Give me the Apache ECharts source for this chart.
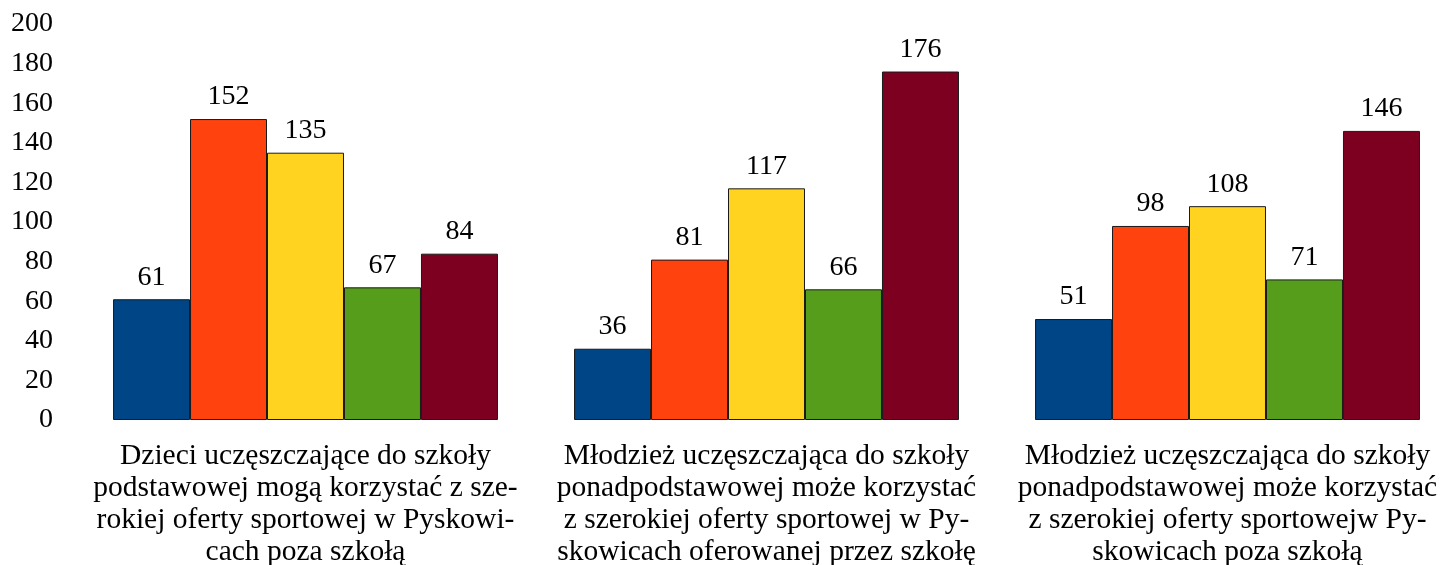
<!DOCTYPE html>
<html>
<head>
<meta charset="utf-8">
<script src="https://cdn.jsdelivr.net/npm/echarts@6/dist/echarts.min.js"></script>
<style>
  html, body { margin: 0; padding: 0; background: #fff; overflow: hidden; }
  #chart { width: 1443px; height: 565px; }
</style>
</head>
<body>
<div id="chart"></div>
<script>
// kategorie (podpisy osi X, z łamaniem jak w oryginale)
var categories = [
	'Dzieci uczęszczające do szkoły\npodstawowej mogą korzystać z sze-\nrokiej oferty sportowej w Pyskowi-\ncach poza szkołą',
	'Młodzież uczęszczająca do szkoły\nponadpodstawowej może korzystać\nz szerokiej oferty sportowej w Py-\nskowicach oferowanej przez szkołę',
	'Młodzież uczęszczająca do szkoły\nponadpodstawowej może korzystać\nz szerokiej oferty sportowejw Py-\nskowicach poza szkołą'
];
var seriesNames = ['Seria 1', 'Seria 2', 'Seria 3', 'Seria 4', 'Seria 5'];
var colors = ['#004586', '#ff420e', '#ffd320', '#579d1c', '#7e0021'];
var s1 = [61, 36, 51];
var s2 = [152, 81, 98];
var s3 = [135, 117, 108];
var s4 = [67, 66, 71];
var s5 = [84, 176, 146];
var yTicks = { min: 0, max: 200, interval: 20 };

var font = 'Liberation Serif';
var chart = echarts.init(document.getElementById('chart'));

var series = [s1, s2, s3, s4, s5].map(function(v, i) {
	return {
		name: seriesNames[i],
		type: 'bar',
		data: v,
		barGap: '0%',
		barCategoryGap: '16.5%',
		itemStyle: {
			color: colors[i],
			borderColor: '#1a1a1a',
			borderWidth: 1
		},
		label: {
			show: true,
			position: 'top',
			distance: 8,
			color: '#000',
			fontFamily: font,
			fontSize: 28
		}
	};
});

chart.setOption({
	animation: false,
	textStyle: { fontFamily: font },
	grid: {
		left: 75,
		top: 24,
		bottom: 145,
		width: 1383, // szerszy niż okno, jak w oryginale
		containLabel: false,
		outerBoundsMode: 'none'
	},
	xAxis: {
		type: 'category',
		data: categories,
		axisLine: { show: false },
		axisTick: { show: false },
		axisLabel: {
			color: '#000',
			fontFamily: font,
			fontSize: 29.5,
			lineHeight: 32,
			margin: 20,
			interval: 0
		}
	},
	yAxis: {
		type: 'value',
		min: yTicks.min,
		max: yTicks.max,
		interval: yTicks.interval,
		axisLine: { show: false },
		axisTick: { show: false },
		splitLine: { show: false },
		axisLabel: {
			color: '#000',
			fontFamily: font,
			fontSize: 28,
			margin: 22
		}
	},
	series: series
});
</script>
</body>
</html>
